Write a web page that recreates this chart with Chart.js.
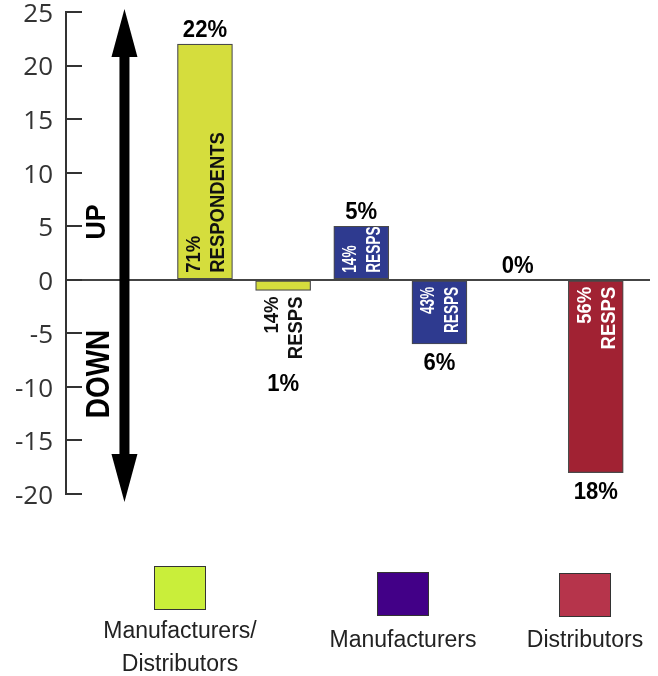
<!DOCTYPE html>
<html>
<head>
<meta charset="utf-8">
<script src="https://cdn.jsdelivr.net/npm/chart.js@4.4.1/dist/chart.umd.min.js"></script>
<style>
  html, body { margin: 0; padding: 0; background: #fff; }
  #wrap { position: relative; width: 658px; height: 676px; overflow: hidden; }
  #c { position: absolute; left: 0; top: 0; }
  .lg-box { position: absolute; width: 52px; height: 44px; box-sizing: border-box; border: 1.5px solid #333; }
  .lg-text { position: absolute; width: 240px; text-align: center; font-family: "Liberation Sans", Arial, sans-serif;
             font-size: 23px; line-height: 33px; color: #222; white-space: nowrap; }
</style>
</head>
<body>
<div id="wrap">
  <canvas id="c" width="658" height="676"></canvas>
  <div id="legend"></div>
</div>
<script>
// ---- data ----
const seriesNames = ['Manufacturers/Distributors', 'Manufacturers', 'Distributors'];
const upValues = [22, 5, 0];
const downValues = [-1, -6, -18];
const upRespondents = [['71%', 'RESPONDENTS'], ['14%', 'RESPS'], null];
const downRespondents = [['14%', 'RESPS'], ['43%', 'RESPS'], ['56%', 'RESPS']];
const yTickValues = [-20, -15, -10, -5, 0, 5, 10, 15, 20, 25];
const directionLabels = ['UP', 'DOWN'];

// ---- styles ----
const barColors = ['#D5DD3D', '#2E3A8F', '#A12233'];
const legendColors = ['#C9EE3A', '#420087', '#B6344B'];
const innerTextColors = ['#111', '#fff', '#fff'];
const labelSqueeze = [0.88, 0.65, 0.88];
const legendLayout = [
  { cx: 180, boxTop: 566, textTop: 614 },
  { cx: 403, boxTop: 572, textTop: 623 },
  { cx: 585, boxTop: 573, textTop: 623 }
];

// each series has an "up" slot and a "down" slot on the x axis
const datasets = seriesNames.map((name, i) => ({
  label: name,
  data: [{ x: 2 * i, y: upValues[i] }, { x: 2 * i + 1, y: downValues[i] }],
  respondents: [upRespondents[i], downRespondents[i]],
  backgroundColor: barColors[i],
  borderColor: '#4a4a4a',
  borderWidth: 1.2,
  borderSkipped: false,
  barThickness: 55,
  grouped: false
}));

const BOLD = '"Liberation Sans", Arial, sans-serif';

function drawSqueezed(ctx, text, x, y, size, squeeze, align, baseline, color) {
  ctx.save();
  ctx.translate(x, y);
  ctx.scale(squeeze, 1);
  ctx.font = 'bold ' + size + 'px ' + BOLD;
  ctx.textAlign = align;
  ctx.textBaseline = baseline;
  ctx.fillStyle = color;
  ctx.fillText(text, 0, 0);
  ctx.restore();
}

// two-line label turned to read bottom-to-top; align 'left' grows upward from anchor
function drawRotatedLines(ctx, lines, cx, anchorY, align, squeeze, color) {
  ctx.save();
  ctx.translate(cx, anchorY);
  ctx.rotate(-Math.PI / 2);
  ctx.scale(squeeze, 1);
  ctx.font = 'bold 21px ' + BOLD;
  ctx.textAlign = align;
  ctx.textBaseline = 'middle';
  ctx.fillStyle = color;
  lines.forEach((t, k) => ctx.fillText(t, 0, (k - (lines.length - 1) / 2) * 24 + 1));
  ctx.restore();
}

function rotatedLength(ctx, lines, squeeze) {
  ctx.save();
  ctx.font = 'bold 21px ' + BOLD;
  const w = Math.max(...lines.map(t => ctx.measureText(t).width));
  ctx.restore();
  return w * squeeze;
}

const decorPlugin = {
  id: 'decor',
  afterDraw(chart) {
    const ctx = chart.ctx;
    const xs = chart.scales.x, ys = chart.scales.y;
    const area = chart.chartArea;
    const zeroY = ys.getPixelForValue(0);

    // inner tick marks on the value axis
    ctx.save();
    ctx.strokeStyle = '#333';
    ctx.lineWidth = 2;
    yTickValues.forEach(v => {
      const py = Math.round(ys.getPixelForValue(v));
      ctx.beginPath();
      ctx.moveTo(area.left, py);
      ctx.lineTo(area.left + 16, py);
      ctx.stroke();
    });
    ctx.restore();

    // double-headed direction arrow
    const ax = xs.getPixelForValue(-1.03);
    const topTip = ys.getPixelForValue(25) - 3;
    const botTip = ys.getPixelForValue(-20) + 8;
    const headLen = 48, headHalf = 13, shaftHalf = 5;
    ctx.save();
    ctx.fillStyle = '#000';
    ctx.fillRect(ax - shaftHalf, topTip + headLen - 1, shaftHalf * 2, botTip - topTip - 2 * headLen + 2);
    ctx.beginPath();
    ctx.moveTo(ax, topTip);
    ctx.lineTo(ax + headHalf, topTip + headLen);
    ctx.lineTo(ax - headHalf, topTip + headLen);
    ctx.closePath();
    ctx.fill();
    ctx.beginPath();
    ctx.moveTo(ax, botTip);
    ctx.lineTo(ax + headHalf, botTip - headLen);
    ctx.lineTo(ax - headHalf, botTip - headLen);
    ctx.closePath();
    ctx.fill();
    ctx.restore();

    // UP / DOWN captions
    [[directionLabels[0], 5.4, 28, 0.9, 28], [directionLabels[1], -8.8, 34, 0.82, 26]].forEach(([t, v, size, sq, dx]) => {
      ctx.save();
      ctx.translate(ax - dx, ys.getPixelForValue(v));
      ctx.rotate(-Math.PI / 2);
      ctx.scale(sq, 1);
      ctx.font = 'bold ' + size + 'px ' + BOLD;
      ctx.textAlign = 'center';
      ctx.textBaseline = 'middle';
      ctx.fillStyle = '#000';
      ctx.fillText(t, 0, 1);
      ctx.restore();
    });

    // bar captions: respondent share and value
    chart.data.datasets.forEach((ds, di) => {
      const meta = chart.getDatasetMeta(di);
      meta.data.forEach((bar, j) => {
        const v = ds.data[j].y;
        const cx = bar.x;
        const lines = ds.respondents[j];
        const barLen = Math.abs(bar.y - bar.base);
        const valueText = Math.abs(v) + '%';
        if (v >= 0) {
          if (lines) {
            drawRotatedLines(ctx, lines, cx, zeroY - 7, 'left', labelSqueeze[di], innerTextColors[di]);
          }
          drawSqueezed(ctx, valueText, cx, bar.y - 7, 24, 0.92, 'center', 'alphabetic', '#000');
        } else {
          let valueTop = bar.y + 9;
          if (lines) {
            const len = rotatedLength(ctx, lines, labelSqueeze[di]);
            if (len + 7 <= barLen) {
              drawRotatedLines(ctx, lines, cx, zeroY + 7, 'right', labelSqueeze[di], innerTextColors[di]);
            } else {
              drawRotatedLines(ctx, lines, cx, bar.y + 6, 'right', labelSqueeze[di], '#111');
              valueTop = bar.y + 6 + len + 15;
            }
          }
          drawSqueezed(ctx, valueText, cx, valueTop + 17, 24, 0.92, 'center', 'alphabetic', '#000');
        }
      });
    });
  }
};

const chart = new Chart(document.getElementById('c'), {
  type: 'bar',
  data: { datasets },
  options: {
    responsive: false,
    animation: false,
    devicePixelRatio: 1,
    layout: { padding: { top: 12, right: 8, bottom: 182, left: 0 } },
    plugins: { legend: { display: false }, tooltip: { enabled: false } },
    scales: {
      x: { type: 'linear', min: -1.778, max: 5.694, offset: false, bounds: 'data', display: false },
      y: {
        min: -20,
        max: 25,
        afterBuildTicks: s => { s.ticks = yTickValues.map(v => ({ value: v })); },
        afterFit: s => { s.width = 66; s.paddingTop = 0; s.paddingBottom = 0; },
        ticks: { padding: 13, labelOffset: 2.5, color: '#333', font: { family: '"Open Sans", "DejaVu Sans", sans-serif', size: 26 } },
        grid: {
          drawTicks: false,
          lineWidth: 2,
          color: c => (c.tick && c.tick.value === 0 ? '#444' : 'rgba(0,0,0,0)')
        },
        border: { display: true, color: '#333', width: 2 }
      }
    }
  },
  plugins: [decorPlugin]
});

// legend: swatch above centered caption
const legendEl = document.getElementById('legend');
seriesNames.forEach((name, i) => {
  const L = legendLayout[i];
  const box = document.createElement('div');
  box.className = 'lg-box';
  box.style.left = (L.cx - 26) + 'px';
  box.style.top = L.boxTop + 'px';
  box.style.background = legendColors[i];
  legendEl.appendChild(box);
  const txt = document.createElement('div');
  txt.className = 'lg-text';
  txt.style.left = (L.cx - 120) + 'px';
  txt.style.top = L.textTop + 'px';
  name.split('/').forEach((part, k, arr) => {
    if (k > 0) txt.appendChild(document.createElement('br'));
    txt.appendChild(document.createTextNode(part + (k < arr.length - 1 ? '/' : '')));
  });
  legendEl.appendChild(txt);
});
</script>
</body>
</html>
